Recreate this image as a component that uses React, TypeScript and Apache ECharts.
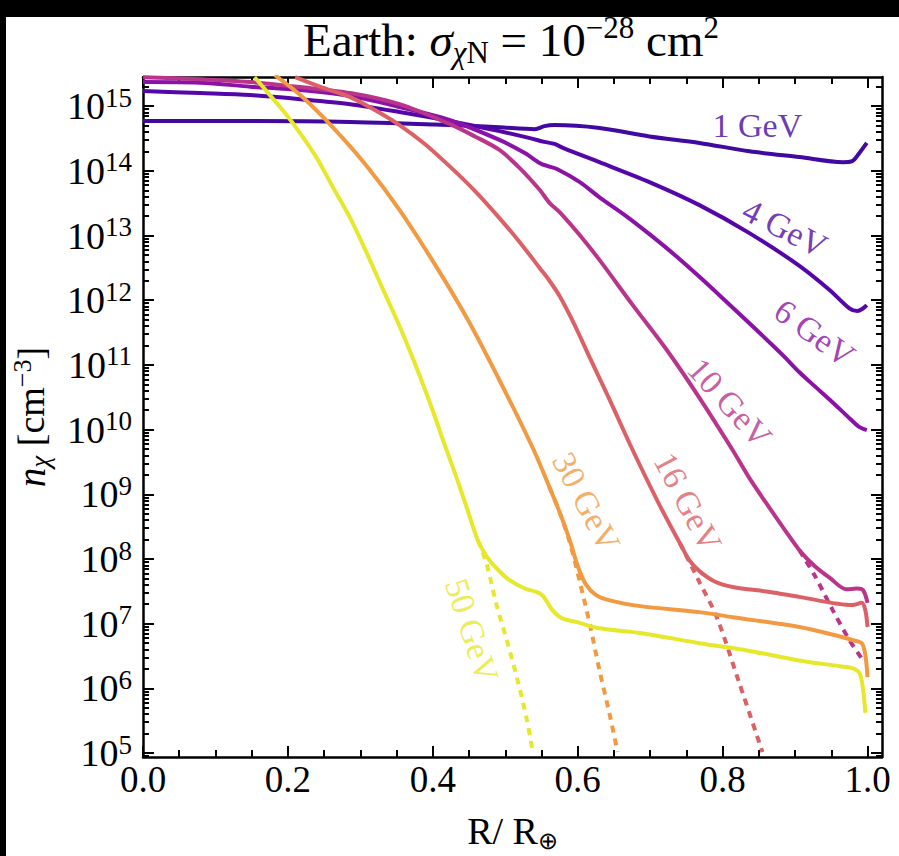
import React, { useEffect, useRef } from 'react';
import * as echarts from 'echarts';

const FONT = '"Liberation Serif", "Times New Roman", Times, serif';

// ---- data (R / R_earth, n_chi in cm^-3) ----
const masses = ['1 GeV', '4 GeV', '6 GeV', '10 GeV', '16 GeV', '30 GeV', '50 GeV'];
const colors = ['#40099f', '#5406a8', '#8a12a6', '#b9348a', '#dc6167', '#f29a42', '#e6e82c'];

const gev1: [number, number][] = [[0, 5.9e14], [0.148, 5.9e14], [0.286, 5.7e14], [0.423, 5.1e14], [0.492, 4.7e14], [0.541, 4.4e14], [0.554, 4.9e14], [0.568, 5.1e14], [0.63, 4.6e14], [0.699, 3.4e14], [0.768, 2.7e14], [0.837, 2.0e14], [0.906, 1.63e14], [0.966, 1.36e14], [0.979, 1.41e14], [0.989, 1.9e14], [0.999, 2.7e14]];
const gev4: [number, number][] = [[0, 1.71e15], [0.079, 1.59e15], [0.148, 1.48e15], [0.217, 1.28e15], [0.286, 1.07e15], [0.354, 8.1e14], [0.423, 5.9e14], [0.492, 4.1e14], [0.534, 3.2e14], [0.554, 2.8e14], [0.568, 2.6e14], [0.582, 2.2e14], [0.63, 1.36e14], [0.699, 6.7e13], [0.768, 2.95e13], [0.837, 1.09e13], [0.906, 3.4e12], [0.948, 1.43e12], [0.975, 7.5e11], [0.986, 6.8e11], [0.994, 7.5e11], [0.999, 8.4e11]];
const gev6: [number, number][] = [[0, 2.35e15], [0.079, 2.3e15], [0.148, 2.0e15], [0.217, 1.77e15], [0.286, 1.43e15], [0.354, 9.7e14], [0.423, 6.1e14], [0.492, 3.0e14], [0.527, 1.88e14], [0.548, 1.31e14], [0.559, 1.18e14], [0.572, 1.06e14], [0.603, 6.7e13], [0.63, 3.9e13], [0.665, 2.07e13], [0.699, 1.05e13], [0.734, 5.0e12], [0.768, 2.3e12], [0.803, 1.0e12], [0.837, 4.4e11], [0.883, 1.42e11], [0.906, 7.7e10], [0.927, 4.7e10], [0.948, 2.9e10], [0.975, 1.5e10], [0.989, 1.09e10], [0.999, 9.8e9]];
const gev10: [number, number][] = [[0, 2.8e15], [0.079, 2.6e15], [0.148, 2.35e15], [0.217, 1.97e15], [0.286, 1.59e15], [0.354, 1.07e15], [0.423, 5.3e14], [0.458, 3.4e14], [0.492, 2.1e14], [0.52, 1.1e14], [0.548, 5.0e13], [0.561, 3.2e13], [0.575, 2.3e13], [0.603, 1.01e13], [0.63, 4.2e12], [0.676, 8.4e11], [0.723, 1.7e11], [0.768, 3.1e10], [0.814, 4.8e9], [0.837, 1.78e9], [0.865, 6.1e8], [0.886, 2.8e8], [0.906, 1.37e8], [0.927, 7.8e7], [0.948, 5.1e7], [0.971, 3.4e7], [0.985, 3.5e7], [0.994, 3.3e7], [1.0, 2.1e7]];
const gev10Dashed: [number, number][] = [[0.906, 1.37e8], [0.927, 5.6e7], [0.952, 1.62e7], [0.975, 5.6e6], [0.992, 2.9e6]];
const gev16: [number, number][] = [[0.21, 2.8e15], [0.244, 2.0e15], [0.286, 1.38e15], [0.32, 8.7e14], [0.354, 5.1e14], [0.389, 2.6e14], [0.423, 1.18e14], [0.458, 4.9e13], [0.492, 1.86e13], [0.52, 7.9e12], [0.548, 3.1e12], [0.561, 2.0e12], [0.575, 1.16e12], [0.596, 4.1e11], [0.617, 1.27e11], [0.644, 2.9e10], [0.676, 4.8e9], [0.713, 6.8e8], [0.741, 1.76e8], [0.754, 9.6e7], [0.768, 6.5e7], [0.789, 4.5e7], [0.814, 3.7e7], [0.865, 3.1e7], [0.906, 2.6e7], [0.979, 1.94e7], [0.992, 2.1e7], [0.997, 1.62e7], [1.0, 8.9e6]];
const gev16Dashed: [number, number][] = [[0.741, 1.76e8], [0.768, 4.4e7], [0.792, 1.26e7], [0.823, 1.21e6], [0.855, 1.04e5]];
const gev30: [number, number][] = [[0.182, 3.0e15], [0.217, 1.48e15], [0.262, 4.7e14], [0.309, 1.18e14], [0.354, 2.5e13], [0.399, 4.2e12], [0.447, 5.3e11], [0.492, 5.8e10], [0.538, 5.2e9], [0.561, 1.29e9], [0.575, 5.3e8], [0.589, 1.96e8], [0.6, 7.8e7], [0.611, 4.1e7], [0.625, 2.8e7], [0.644, 2.3e7], [0.686, 1.87e7], [0.768, 1.51e7], [0.814, 1.26e7], [0.906, 8.9e6], [0.961, 6.4e6], [0.979, 5.6e6], [0.992, 5.0e6], [0.997, 3.3e6], [1.0, 1.5e6]];
const gev30Dashed: [number, number][] = [[0.561, 1.29e9], [0.575, 5.3e8], [0.589, 1.82e8], [0.603, 4.4e7], [0.617, 9.5e6], [0.63, 1.92e6], [0.644, 4.0e5], [0.655, 1.04e5]];
const gev50: [number, number][] = [[0.154, 2.8e15], [0.174, 1.53e15], [0.196, 7.8e14], [0.217, 3.8e14], [0.24, 1.57e14], [0.262, 5.6e13], [0.286, 1.86e13], [0.309, 5.3e12], [0.331, 1.49e12], [0.354, 4.0e11], [0.375, 1.07e11], [0.396, 2.6e10], [0.414, 6.9e9], [0.433, 1.78e9], [0.448, 5.7e8], [0.462, 1.96e8], [0.474, 1.11e8], [0.488, 7.2e7], [0.506, 4.7e7], [0.527, 3.5e7], [0.543, 3.1e7], [0.552, 2.7e7], [0.564, 1.68e7], [0.578, 1.22e7], [0.599, 1.06e7], [0.63, 8.5e6], [0.686, 7.2e6], [0.768, 5.0e6], [0.837, 3.8e6], [0.906, 2.7e6], [0.962, 2.2e6], [0.979, 2.06e6], [0.989, 1.72e6], [0.994, 9.4e5], [0.997, 4.2e5]];
const gev50Dashed: [number, number][] = [[0.462, 1.96e8], [0.474, 8.6e7], [0.488, 1.94e7], [0.502, 5.6e6], [0.517, 1.34e6], [0.53, 3.2e5], [0.538, 1.04e5]];

const solidCurves = [gev1, gev4, gev6, gev10, gev16, gev30, gev50];
const dashedCurves: ([number, number][] | null)[] = [null, null, null, gev10Dashed, gev16Dashed, gev30Dashed, gev50Dashed];

// curve labels (position in data space, rotation in degrees)
const labelX = [0.848, 0.886, 0.927, 0.81, 0.752, 0.612, 0.454];
const labelN = [5.1e14, 1.3e13, 3.1e11, 2.6e10, 7.6e8, 7.6e8, 7.9e6];
const labelAngle = [0, -27, -36, -48, -62, -62, -72];

// axes
const xMin = 0;
const xMax = 1.02;
const yMinExp = 4.94;
const yMaxExp = 15.45;
const xMajor = [0, 0.2, 0.4, 0.6, 0.8, 1.0];
const xMinor = [0.05, 0.1, 0.15, 0.25, 0.3, 0.35, 0.45, 0.5, 0.55, 0.65, 0.7, 0.75, 0.85, 0.9, 0.95];
const yMajorExp = [5, 6, 7, 8, 9, 10, 11, 12, 13, 14, 15];
const minorMantissas = [2, 3, 4, 5, 6, 7, 8, 9];

const yMinor: number[] = [];
for (let e = 4; e <= 15; e++) {
  for (const m of minorMantissas) {
    const v = e + Math.log10(m);
    if (v > yMinExp && v < yMaxExp) yMinor.push(v);
  }
}

const toLog = (pts: [number, number][]) => pts.map(([x, n]) => [x, Math.log10(n)]);

const tickStyle = { color: '#000', width: 2 };

function xAxisDef(position: 'bottom' | 'top', ticks: number[], len: number, main: boolean) {
  return {
    type: 'value',
    min: xMin,
    max: xMax,
    position,
    axisLine: { show: main, onZero: false, lineStyle: { color: '#000', width: 2.5 } },
    axisTick: { show: true, inside: true, length: len, customValues: ticks, lineStyle: tickStyle },
    axisLabel: position === 'bottom' && main
      ? {
          show: true,
          customValues: xMajor,
          formatter: (v: number) => v.toFixed(1),
          fontFamily: FONT,
          fontSize: 37,
          color: '#000',
          margin: 4,
        }
      : { show: false },
    splitLine: { show: false },
    ...(position === 'bottom' && main
      ? {
          name: '{r|R/ R}{s|⊕}',
          nameLocation: 'middle',
          nameGap: 52,
          nameTextStyle: {
            fontFamily: FONT,
            fontSize: 37,
            color: '#000',
            rich: {
              r: { fontFamily: FONT, fontSize: 38, color: '#000', lineHeight: 44 },
              s: { fontFamily: FONT, fontSize: 24, color: '#000', lineHeight: 28, verticalAlign: 'bottom' },
            },
          },
        }
      : {}),
  };
}

function yAxisDef(position: 'left' | 'right', ticks: number[], len: number, main: boolean) {
  return {
    type: 'value',
    min: yMinExp,
    max: yMaxExp,
    position,
    axisLine: { show: main, onZero: false, lineStyle: { color: '#000', width: 2.5 } },
    axisTick: { show: true, inside: true, length: len, customValues: ticks, lineStyle: tickStyle },
    axisLabel: position === 'left' && main
      ? {
          show: true,
          customValues: yMajorExp,
          formatter: (v: number) => `{b|10}{s|${Math.round(v)}}`,
          margin: 11,
          rich: {
            b: { fontFamily: FONT, fontSize: 38, color: '#000', lineHeight: 44 },
            s: { fontFamily: FONT, fontSize: 27, color: '#000', lineHeight: 28, verticalAlign: 'top' },
          },
        }
      : { show: false },
    splitLine: { show: false },
    ...(position === 'left' && main
      ? {
          name: '{i|n}{c|χ}{t| [cm}{p|−3}{t|]}',
          nameLocation: 'middle',
          nameGap: 90,
          nameRotate: 90,
          nameTextStyle: {
            fontFamily: FONT,
            fontSize: 37,
            color: '#000',
            rich: {
              i: { fontFamily: FONT, fontSize: 39, fontStyle: 'italic', color: '#000', lineHeight: 44 },
              c: { fontFamily: FONT, fontSize: 27, fontStyle: 'italic', color: '#000', lineHeight: 30, verticalAlign: 'bottom' },
              t: { fontFamily: FONT, fontSize: 38, color: '#000', lineHeight: 44 },
              p: { fontFamily: FONT, fontSize: 26, color: '#000', lineHeight: 26, verticalAlign: 'top' },
            },
          },
        }
      : {}),
  };
}

function buildOption() {
  const series: any[] = [];
  masses.forEach((m, i) => {
    series.push({
      type: 'line',
      name: m,
      data: toLog(solidCurves[i]),
      showSymbol: false,
      smooth: 0.3,
      clip: true,
      lineStyle: { color: colors[i], width: 4 },
      z: 3,
    });
    const d = dashedCurves[i];
    if (d) {
      series.push({
        type: 'line',
        name: m + ' (dashed)',
        data: toLog(d),
        showSymbol: false,
        smooth: 0.3,
        clip: true,
        lineStyle: { color: colors[i], width: 4, type: [7, 6] },
        z: 2,
      });
    }
  });

  series.push({
    type: 'scatter',
    name: 'labels',
    symbolSize: 1,
    silent: true,
    itemStyle: { color: 'rgba(0,0,0,0)' },
    label: { show: true, position: 'inside', fontFamily: FONT, fontSize: 34 },
    data: masses.map((m, i) => ({
      value: [labelX[i], Math.log10(labelN[i])],
      label: { formatter: m, rotate: labelAngle[i], color: colors[i] },
    })),
    z: 5,
  });

  return {
    animation: false,
    backgroundColor: '#fff',
    grid: { left: 143, top: 77, width: 739, height: 680, containLabel: false, outerBoundsMode: 'none' },
    xAxis: [
      xAxisDef('bottom', xMajor, 11, true),
      xAxisDef('bottom', xMinor, 7, false),
      xAxisDef('top', xMajor, 11, true),
      xAxisDef('top', xMinor, 7, false),
    ],
    yAxis: [
      yAxisDef('left', yMajorExp, 11, true),
      yAxisDef('left', yMinor, 6, false),
      yAxisDef('right', yMajorExp, 11, true),
      yAxisDef('right', yMinor, 6, false),
    ],
    graphic: [
      {
        type: 'text',
        x: 511,
        y: 40,
        style: {
          text: '{t|Earth: }{g|σ}{c|χ}{n|N}{t| = 10}{p|−28}{t| cm}{p|2}',
          align: 'center',
          verticalAlign: 'middle',
          fontFamily: FONT,
          fontSize: 47,
          fill: '#000',
          rich: {
            t: { fontFamily: FONT, fontSize: 47, fill: '#000', lineHeight: 56 },
            g: { fontFamily: FONT, fontSize: 47, fontStyle: 'italic', fill: '#000', lineHeight: 56 },
            c: { fontFamily: FONT, fontSize: 31, fontStyle: 'italic', fill: '#000', lineHeight: 32, verticalAlign: 'bottom' },
            n: { fontFamily: FONT, fontSize: 31, fill: '#000', lineHeight: 32, verticalAlign: 'bottom' },
            p: { fontFamily: FONT, fontSize: 31, fill: '#000', lineHeight: 32, verticalAlign: 'top' },
          },
        },
      },
    ],
    series,
  };
}

export default function App() {
  const ref = useRef<HTMLDivElement>(null);
  useEffect(() => {
    document.body.style.margin = '0';
    const chart = echarts.init(ref.current as HTMLDivElement, null, { renderer: 'svg' });
    chart.setOption(buildOption() as any);
    return () => chart.dispose();
  }, []);
  return (
    <div style={{ position: 'fixed', left: 0, top: 0, width: 899, height: 856, background: '#fff', overflow: 'hidden' }}>
      <div ref={ref} style={{ position: 'absolute', left: 0, top: 0, width: 899, height: 856 }} />
      <div style={{ position: 'absolute', left: 0, top: 0, width: 899, height: 17, background: '#000' }} />
      <div style={{ position: 'absolute', left: 0, top: 0, width: 6, height: 856, background: '#000' }} />
    </div>
  );
}
